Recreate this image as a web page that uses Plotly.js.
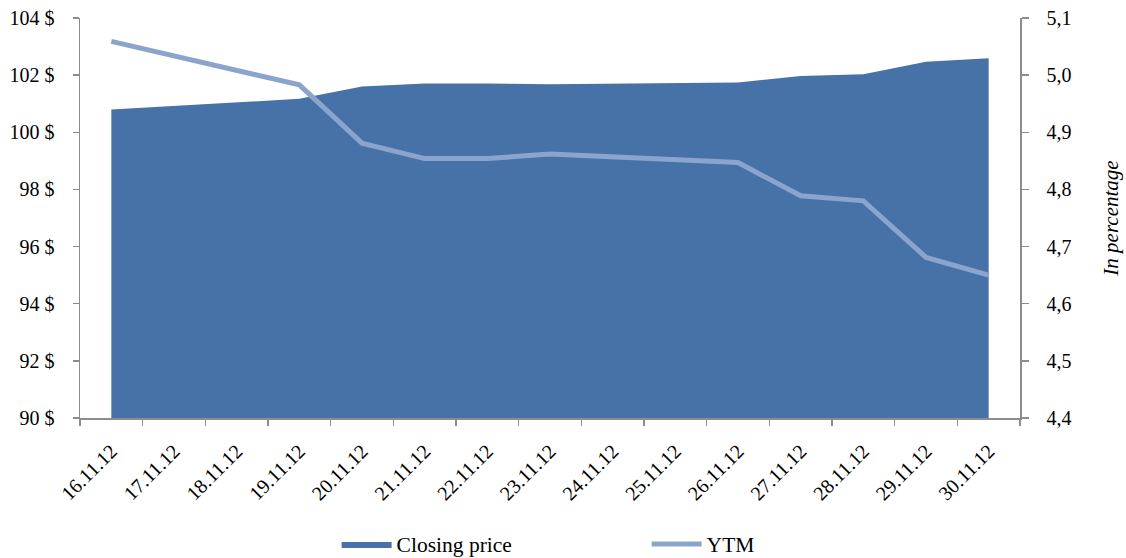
<!DOCTYPE html>
<html>
<head>
<meta charset="utf-8">
<script src="https://cdn.plot.ly/plotly-3.0.1.min.js"></script>
<style>html,body{margin:0;padding:0;background:#fff;}#chart{width:1126px;height:558px;}</style>
</head>
<body>
<div id="chart"></div>
<script>
const dates = ["16.11.12","17.11.12","18.11.12","19.11.12","20.11.12","21.11.12","22.11.12","23.11.12","24.11.12","25.11.12","26.11.12","27.11.12","28.11.12","29.11.12","30.11.12"];
// null = no trading (weekend); line connects across
const closingPrice = [100.80, null, null, 101.17, 101.60, 101.71, 101.71, 101.68, null, null, 101.74, 101.97, 102.03, 102.47, 102.59];
const ytm = [5.059, null, null, 4.983, 4.881, 4.854, 4.854, 4.862, null, null, 4.847, 4.789, 4.780, 4.681, 4.650];
const priceTicks = [90, 92, 94, 96, 98, 100, 102, 104];
const priceTickText = ["90 $", "92 $", "94 $", "96 $", "98 $", "100 $", "102 $", "104 $"];
const ytmTicks = [4.4, 4.5, 4.6, 4.7, 4.8, 4.9, 5.0, 5.1];
const ytmTickText = ["4,4", "4,5", "4,6", "4,7", "4,8", "4,9", "5,0", "5,1"];

const axisGray = "#8c8c8c";
const fontFam = "Liberation Serif";

const traces = [
  {
    x: dates, y: closingPrice, name: "Closing price", type: "scatter", mode: "lines",
    fill: "tozeroy", fillcolor: "#4672a7", line: {color: "#4672a7", width: 0},
    connectgaps: true, xaxis: "x", yaxis: "y"
  },
  {
    x: dates, y: ytm, name: "YTM", type: "scatter", mode: "lines",
    line: {color: "#8ba4cd", width: 5}, connectgaps: true, xaxis: "x", yaxis: "y2"
  }
];

const layout = {
  width: 1126, height: 558,
  margin: {l: 80, r: 106, t: 18, b: 140, autoexpand: false},
  paper_bgcolor: "#fff", plot_bgcolor: "#fff",
  font: {family: fontFam, size: 20, color: "#000"},
  showlegend: true,
  legend: {
    orientation: "h", x: 0.273, xanchor: "left", y: -0.315, yanchor: "middle",
    font: {family: fontFam, size: 21.5, color: "#000"}, entrywidth: 245, entrywidthmode: "pixels",
    itemwidth: 50, traceorder: "normal"
  },
  xaxis: {
    type: "category", range: [-0.5, 14.5], tickangle: -45, ticks: "outside", tickson: "boundaries",
    ticklen: 6, tickcolor: axisGray, tickwidth: 1.5, showline: true, linecolor: axisGray, linewidth: 1.5,
    showgrid: false, zeroline: false, tickfont: {family: fontFam, size: 20, color: "#000"},
    ticklabelstandoff: 12, automargin: false
  },
  yaxis: {
    range: [90, 104], tickmode: "array", tickvals: priceTicks, ticktext: priceTickText, ticks: "outside", ticklen: 6,
    tickcolor: axisGray, tickwidth: 1.5, showline: true, linecolor: axisGray, linewidth: 1.5,
    showgrid: false, zeroline: false, tickfont: {family: fontFam, size: 20, color: "#000"},
    ticklabelstandoff: 14, automargin: false
  },
  yaxis2: {
    overlaying: "y", side: "right", range: [4.4, 5.1], tickmode: "array", tickvals: ytmTicks, ticktext: ytmTickText,
    ticks: "outside", ticklen: 7, tickcolor: axisGray, tickwidth: 1.5, showline: true, linecolor: axisGray,
    linewidth: 1.5, showgrid: false, zeroline: false, tickfont: {family: fontFam, size: 20, color: "#000"},
    ticklabelstandoff: 14, automargin: false,
    title: {text: "<i>In percentage</i>", font: {family: fontFam, size: 21, color: "#000"}, standoff: 33}
  }
};

Plotly.newPlot("chart", traces, layout, {displayModeBar: false, staticPlot: true});
</script>
</body>
</html>
